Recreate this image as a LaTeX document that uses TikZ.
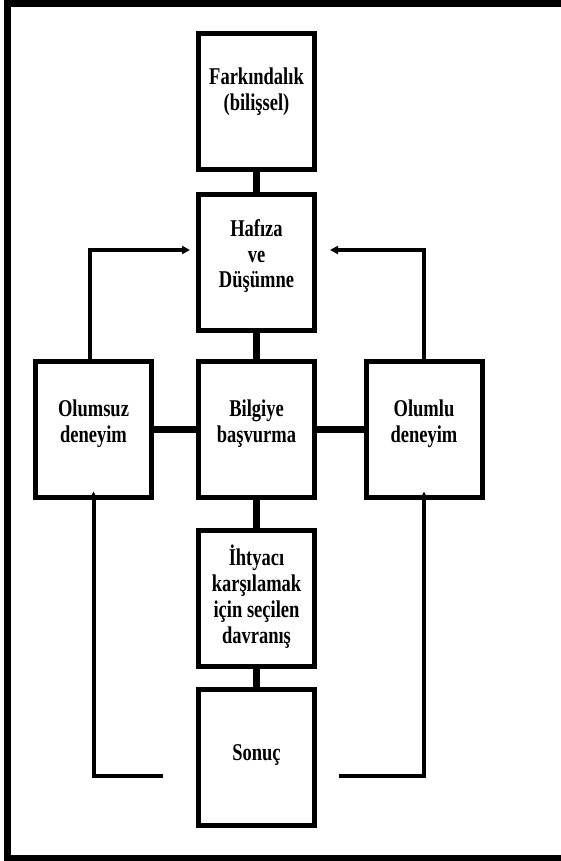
\documentclass[tikz,border=0pt]{standalone}
\usepackage{graphicx}
\usepackage{fontspec}
\setmainfont{Liberation Serif}
\usetikzlibrary{arrows.meta}
% box text: bold serif, set tall and narrow
\newcommand{\boxlabel}[1]{\scalebox{1}[1.3]{\begin{tabular}{@{}c@{}}#1\end{tabular}}}
\begin{document}
\begin{tikzpicture}[x=1pt,y=-1pt,
  box/.style={draw, line width=5pt, minimum width=116pt, minimum height=136pt, inner sep=0pt},
  txt/.style={font=\fontsize{18.5}{19.8}\selectfont\bfseries, inner sep=0pt},
  link/.style={line width=7pt},
  feedback/.style={line width=4pt, -{Triangle[length=8pt,width=8pt]}},
  frame/.style={line width=7pt, line join=miter}
]
\useasboundingbox (0,0) rectangle (561,861);

% outer frame, open on the right
\draw[frame] (565,4) -- (7,4) -- (7,858) -- (565,858);

% boxes
\node[box] (fark)    at (256.5,102)   {};
\node[box] (hafiza)  at (256.5,262.5) {};
\node[box] (bilgi)   at (256.5,429)   {};
\node[box] (olumsuz) at (93.5,429)    {};
\node[box] (olumlu)  at (424,429)     {};
\node[box] (ihtiyac) at (256.5,598)   {};
\node[box] (sonuc)   at (256.5,757.5) {};

% labels
\node[txt] (fark-t)    at (256.5,92)  {\boxlabel{Farkındalık\\(bilişsel)}};
\node[txt] (hafiza-t)  at (256.5,257) {\boxlabel{Hafıza\\ve\\Düşümne}};
\node[txt] (bilgi-t)   at (256.5,424) {\boxlabel{Bilgiye\\başvurma}};
\node[txt] (olumsuz-t) at (93.5,424)  {\boxlabel{Olumsuz\\deneyim}};
\node[txt] (olumlu-t)  at (424,424)   {\boxlabel{Olumlu\\deneyim}};
\node[txt] (ihtiyac-t) at (256.5,598) {\boxlabel{İhtyacı\\karşılamak\\için seçilen\\davranış}};
\node[txt] (sonuc-t)   at (256.5,755) {\boxlabel{Sonuç}};

% straight links
\draw[link] (fark.south) -- (hafiza.north);
\draw[link] (hafiza.south) -- (bilgi.north);
\draw[link] (bilgi.south) -- (ihtiyac.north);
\draw[link] (ihtiyac.south) -- (sonuc.north);
\draw[link] (olumsuz.east) -- (bilgi.west);
\draw[link] (bilgi.east) -- (olumlu.west);

% feedback arrows
\coordinate (negup)  at (90,250);
\coordinate (negtip) at (190,250);
\coordinate (posup)  at (424,250);
\coordinate (postip) at (330,250);
\draw[feedback] (olumsuz.north -| negup) -- (negup) -- (negtip);
\draw[feedback] (olumlu.north) -- (posup) -- (postip);

\coordinate (negstart) at (163,776);
\coordinate (negcorner) at (93.5,776);
\coordinate (posstart) at (339,776);
\coordinate (poscorner) at (424,776);
\draw[feedback] (negstart) -- (negcorner) -- ([yshift=8pt]olumsuz.south);
\draw[feedback] (posstart) -- (poscorner) -- ([yshift=8pt]olumlu.south);
\end{tikzpicture}
\end{document}
